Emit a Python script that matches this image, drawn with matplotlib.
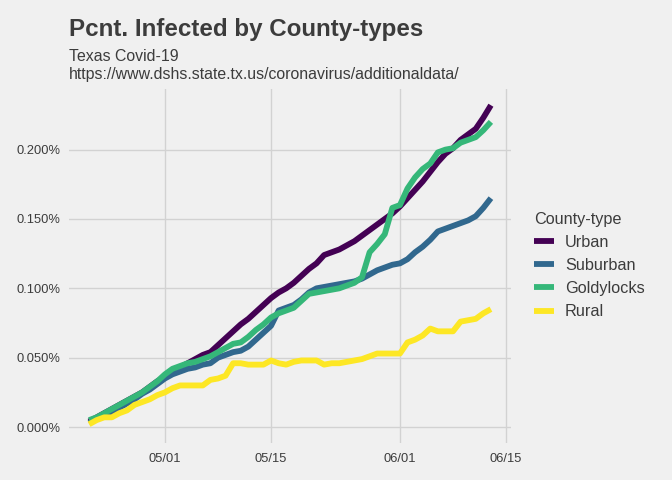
import matplotlib
matplotlib.use('Agg')
import matplotlib.pyplot as plt
import matplotlib.dates as mdates
from matplotlib.lines import Line2D
import pandas as pd

# Daily series, 04/21 through 06/13 (percent of population infected)
dates = pd.date_range('2020-04-21', '2020-06-13', freq='D')

urban = [0.004, 0.007, 0.010, 0.013, 0.016, 0.019, 0.022, 0.025, 0.029, 0.033,
         0.036, 0.040, 0.043, 0.046, 0.049, 0.052, 0.054, 0.059, 0.064, 0.069,
         0.074, 0.078, 0.083, 0.088, 0.093, 0.097, 0.100, 0.104, 0.109, 0.114,
         0.118, 0.124, 0.126, 0.128, 0.131, 0.134, 0.138, 0.142, 0.146, 0.150,
         0.154, 0.159, 0.165, 0.171, 0.177, 0.184, 0.191, 0.197, 0.201, 0.207,
         0.211, 0.215, 0.223, 0.232]

suburban = [0.003, 0.006, 0.009, 0.011, 0.014, 0.017, 0.020, 0.024, 0.027, 0.031,
            0.035, 0.038, 0.040, 0.042, 0.043, 0.045, 0.046, 0.050, 0.052, 0.054,
            0.055, 0.058, 0.063, 0.068, 0.073, 0.084, 0.086, 0.088, 0.092, 0.097,
            0.100, 0.101, 0.102, 0.103, 0.104, 0.105, 0.107, 0.110, 0.113, 0.115,
            0.117, 0.118, 0.121, 0.126, 0.130, 0.135, 0.141, 0.143, 0.145, 0.147,
            0.149, 0.152, 0.158, 0.165]

goldylocks = [0.005, 0.007, 0.010, 0.013, 0.016, 0.019, 0.022, 0.025, 0.029, 0.033,
              0.038, 0.042, 0.044, 0.046, 0.047, 0.049, 0.051, 0.054, 0.057, 0.060,
              0.061, 0.065, 0.070, 0.074, 0.079, 0.082, 0.084, 0.086, 0.091, 0.096,
              0.097, 0.098, 0.099, 0.100, 0.102, 0.104, 0.108, 0.126, 0.132, 0.139,
              0.158, 0.160, 0.172, 0.180, 0.186, 0.190, 0.198, 0.200, 0.201, 0.205,
              0.207, 0.209, 0.214, 0.220]

rural = [0.002, 0.005, 0.007, 0.007, 0.010, 0.012, 0.016, 0.018, 0.020, 0.023,
         0.025, 0.028, 0.030, 0.030, 0.030, 0.030, 0.034, 0.035, 0.037, 0.046,
         0.046, 0.045, 0.045, 0.045, 0.048, 0.046, 0.045, 0.047, 0.048, 0.048,
         0.048, 0.045, 0.046, 0.046, 0.047, 0.048, 0.049, 0.051, 0.053, 0.053,
         0.053, 0.053, 0.061, 0.063, 0.066, 0.071, 0.069, 0.069, 0.069, 0.076,
         0.077, 0.078, 0.082, 0.085]

series_names = ['Urban', 'Suburban', 'Goldylocks', 'Rural']
series_colors = ['#440154', '#31688E', '#35B779', '#FDE725']
y_ticks = [0.0, 0.05, 0.10, 0.15, 0.20]
x_ticks = ['2020-05-01', '2020-05-15', '2020-06-01', '2020-06-15']

bg = '#F0F0F0'
txt = '#3C3C3C'

plt.rcParams['font.family'] = ['Liberation Sans', 'DejaVu Sans']

fig = plt.figure(figsize=(6.72, 4.8), dpi=100, facecolor=bg)
ax = fig.add_axes([69 / 672, 1 - 443 / 480, (511 - 69) / 672, (443 - 89) / 480])
ax.set_facecolor(bg)

for vals, name, col in zip([urban, suburban, goldylocks, rural], series_names, series_colors):
    ax.plot(dates, vals, color=col, lw=4.2, solid_capstyle='butt',
            solid_joinstyle='round', label=name)

# ggplot-style 5% expansion
span = dates[-1] - dates[0]
ax.set_xlim(dates[0] - span * 0.05, dates[-1] + span * 0.05)
ax.set_ylim(-0.0115, 0.2437)

ax.set_xticks(pd.to_datetime(x_ticks))
ax.xaxis.set_major_formatter(mdates.DateFormatter('%m/%d'))
ax.set_yticks(y_ticks)
ax.set_yticklabels(['%.3f%%' % v for v in y_ticks])

ax.grid(True, color='#D2D2D2', lw=1.0)
ax.set_axisbelow(True)
for s in ax.spines.values():
    s.set_visible(False)
ax.tick_params(length=0, labelsize=9.3, colors=txt)
ax.tick_params(axis='y', pad=6)
ax.tick_params(axis='x', pad=7)

fig.text(69 / 672, 1 - 36 / 480, 'Pcnt. Infected by County-types', fontsize=17.4,
         fontweight='bold', color=txt, va='baseline', ha='left')
fig.text(69 / 672, 1 - 61 / 480, 'Texas Covid-19', fontsize=11.45,
         color=txt, va='baseline', ha='left')
fig.text(69 / 672, 1 - 78.5 / 480, 'https://www.dshs.state.tx.us/coronavirus/additionaldata/',
         fontsize=11.45, color=txt, va='baseline', ha='left')

handles = [Line2D([0], [0], color=c, lw=4.2, solid_capstyle='butt') for c in series_colors]
leg = fig.legend(handles, series_names, title='County-type', loc='upper left',
                 bbox_to_anchor=(525.3 / 672, 1 - 202.8 / 480), frameon=False,
                 fontsize=11.7, title_fontsize=11.7, handlelength=1.2,
                 handletextpad=0.7, labelspacing=0.5, borderpad=0.55, borderaxespad=0,
                 alignment='left')
for t in leg.get_texts():
    t.set_color(txt)
leg.get_title().set_color(txt)

fig.savefig('out.png', dpi=100, facecolor=bg)
